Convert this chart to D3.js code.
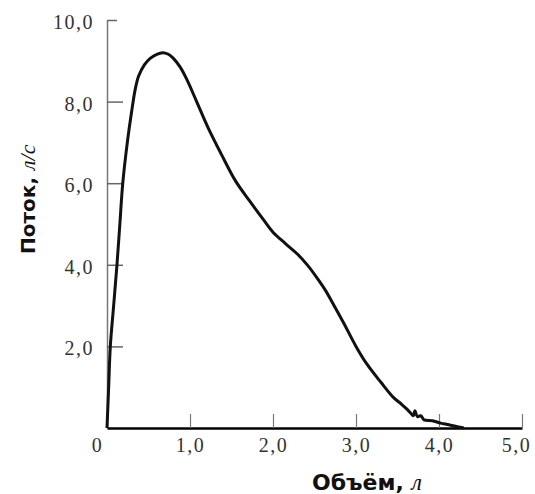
<!DOCTYPE html>
<html>
<head>
<meta charset="utf-8">
<script src="https://cdn.jsdelivr.net/npm/d3@7"></script>
<style>
  body { margin: 0; background: #fff; }
  .tick text { font-family: "Liberation Serif", serif; fill: #333; letter-spacing: 1.5px; }
</style>
</head>
<body>
<div class="chart"></div>
<script>
// flow-volume curve
var volume = [0, 0.02, 0.04, 0.08, 0.12, 0.155, 0.19, 0.245, 0.30, 0.34, 0.38, 0.45, 0.52, 0.60, 0.67,
              0.74, 0.80, 0.88, 0.96, 1.08, 1.22, 1.38, 1.55, 1.72, 1.88, 2.00, 2.15, 2.29, 2.42, 2.53,
              2.63, 2.72, 2.85, 3.00, 3.13, 3.30, 3.45, 3.55, 3.61, 3.66, 3.69, 3.71, 3.74, 3.78, 3.82,
              3.92, 4.02, 4.12, 4.22, 4.30];
var flow = [0, 1.0, 2.0, 3.0, 4.0, 5.0, 6.0, 7.0, 7.8, 8.3, 8.62, 8.9, 9.06, 9.16, 9.2,
            9.16, 9.06, 8.85, 8.55, 8.0, 7.35, 6.7, 6.05, 5.56, 5.12, 4.8, 4.52, 4.27, 3.98, 3.68,
            3.38, 3.06, 2.58, 2.0, 1.57, 1.12, 0.75, 0.58, 0.47, 0.36, 0.30, 0.42, 0.28, 0.30, 0.20,
            0.18, 0.12, 0.08, 0.03, 0];

var xTicks = [0, 1, 2, 3, 4, 5];
var xTickLabels = ["0", "1,0", "2,0", "3,0", "4,0", "5,0"];
var yTicks = [2, 4, 6, 8, 10];
var yTickLabels = ["2,0", "4,0", "6,0", "8,0", "10,0"];

var xTitle = "Объём,";
var xUnit = "л";
var yTitle = "Поток,";
var yUnit = "л/с";

function drawChart(){
  var w = 535;
  var h = 494;

  var svg = d3.select(".chart")
              .append("svg")
              .attr("width", w)
              .attr("height", h);

  var x = d3.scaleLinear()
            .domain([0, 5])
            .range([107, 522]);

  var y = d3.scaleLinear()
            .domain([0, 10])
            .range([428, 20]);

  var yAxis = d3.axisLeft(y)
                .tickValues(yTicks)
                .tickFormat(function(d, i){ return yTickLabels[i]; })
                .tickSizeInner(-16)
                .tickSizeOuter(0)
                .tickPadding(13);

  var yG = svg.append("g")
              .attr("transform", "translate(107,0)")
              .call(yAxis);

  yG.select(".domain")
    .attr("stroke", "#777")
    .attr("stroke-width", 1.5);
  yG.selectAll(".tick line")
    .attr("stroke", "#666")
    .attr("stroke-width", 1.5);
  yG.selectAll(".tick text")
    .style("font-size", "20px")
    .attr("dy", "0.42em");
  // short tick at the top
  yG.selectAll(".tick")
    .filter(function(d){ return d == 10; })
    .select("line")
    .attr("x2", 10);

  var xAxis = d3.axisBottom(x)
                .tickValues(xTicks)
                .tickFormat(function(d, i){ return xTickLabels[i]; })
                .tickSizeInner(-14)
                .tickSizeOuter(0)
                .tickPadding(10);

  var xG = svg.append("g")
              .attr("transform", "translate(0,428)")
              .call(xAxis);

  xG.select(".domain")
    .attr("stroke", "#000")
    .attr("stroke-width", 2.5);
  xG.selectAll(".tick line")
    .attr("stroke", "#777")
    .attr("stroke-width", 1.2);
  xG.selectAll(".tick text")
    .style("font-size", "20px");
  xG.selectAll(".tick")
    .filter(function(d){ return d == 0; })
    .each(function(){
      d3.select(this).select("line").remove();
      d3.select(this).select("text").attr("x", -10);
    });
  // keep the last label inside the window
  xG.selectAll(".tick")
    .filter(function(d){ return d == 5; })
    .select("text")
    .attr("x", -6);

  var line = d3.line()
               .x(function(d, i){ return x(volume[i]); })
               .y(function(d, i){ return y(flow[i]); })
               .curve(d3.curveCatmullRom.alpha(0.5));

  svg.append("path")
     .datum(volume)
     .attr("fill", "none")
     .attr("stroke", "#111")
     .attr("stroke-width", 3)
     .attr("stroke-linejoin", "round")
     .attr("d", line);

  // axis titles
  var xt = svg.append("text")
              .attr("x", 312)
              .attr("y", 490)
              .attr("fill", "#111");
  xt.append("tspan")
    .style("font-family", "'DejaVu Sans', sans-serif")
    .style("font-weight", "bold")
    .style("font-size", "22px")
    .text(xTitle + " ");
  xt.append("tspan")
    .style("font-family", "'Liberation Serif', serif")
    .style("font-style", "italic")
    .style("font-size", "24px")
    .text(xUnit);

  var yt = svg.append("text")
              .attr("transform", "translate(35,254) rotate(-90)")
              .attr("fill", "#111");
  yt.append("tspan")
    .style("font-family", "'DejaVu Sans', sans-serif")
    .style("font-weight", "bold")
    .style("font-size", "20px")
    .text(yTitle + " ");
  yt.append("tspan")
    .style("font-family", "'Liberation Serif', serif")
    .style("font-style", "italic")
    .style("font-size", "22px")
    .text(yUnit);
}

window.onload = drawChart;
</script>
</body>
</html>
